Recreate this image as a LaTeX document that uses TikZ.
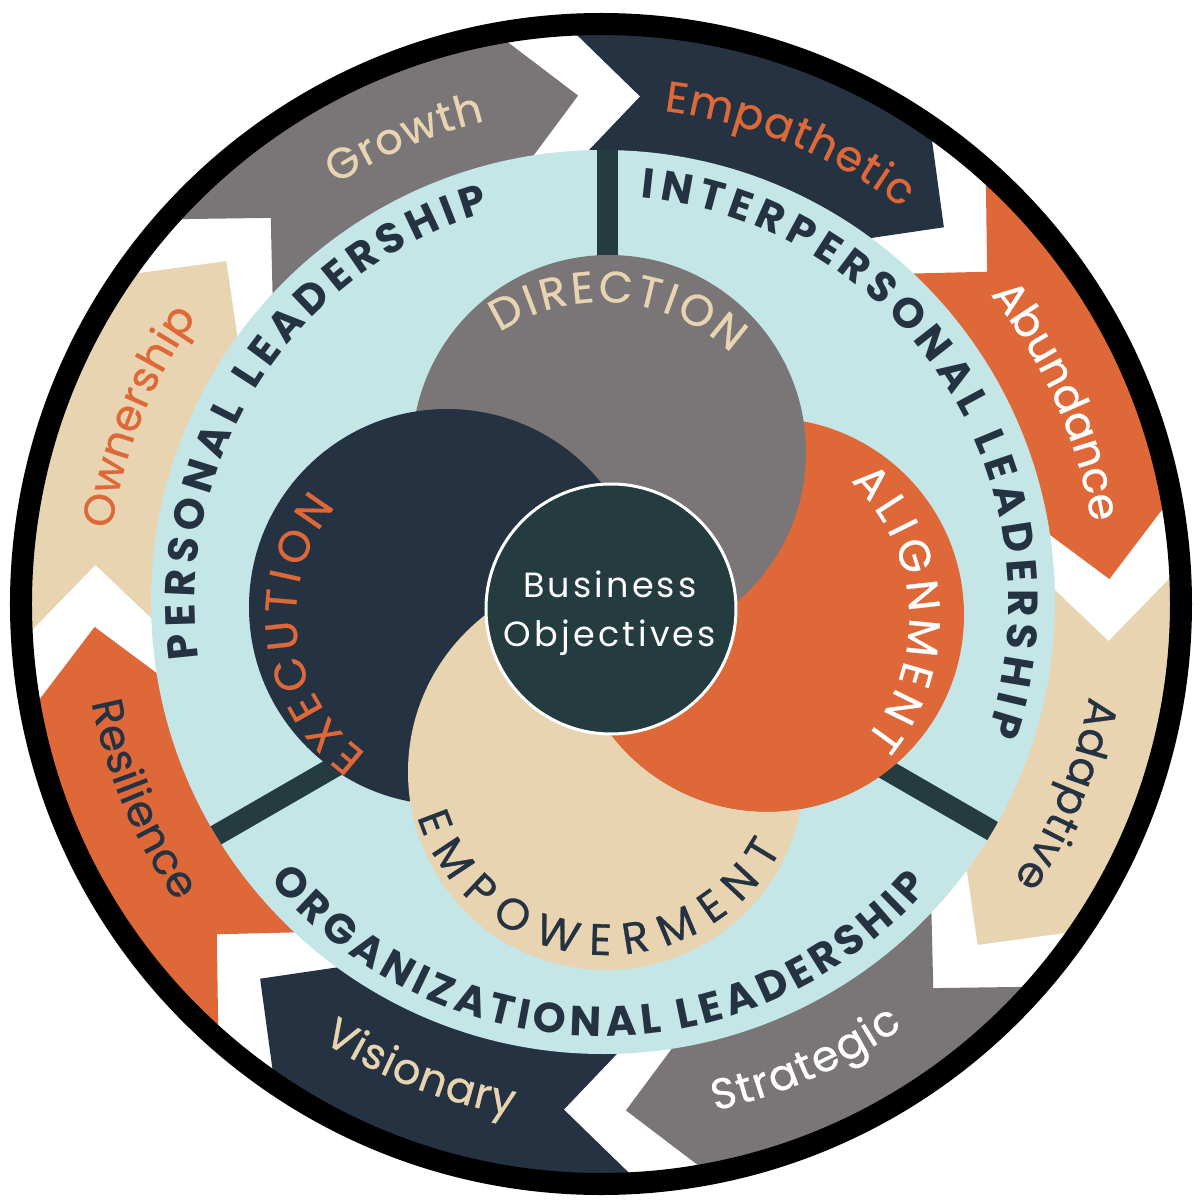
\documentclass[tikz,border=0pt]{standalone}
\usepackage{fontspec}
\setmainfont{Poppins}
\usetikzlibrary{decorations.text}
\IfFontExistsTF{Poppins Bold}{\newfontfamily\boldf{Poppins Bold}}{\newfontfamily\boldf{Poppins}[FakeBold=2]}
\newfontfamily\regf{Poppins}[FakeBold=0.6]
\definecolor{grayc}{HTML}{7A7677}
\definecolor{navyc}{HTML}{243242}
\definecolor{orangec}{HTML}{DF6839}
\definecolor{beigec}{HTML}{E8D4B0}
\definecolor{cyanc}{HTML}{C4E6E7}
\definecolor{tealc}{HTML}{243B40}
% #1 cx, #2 cy, #3 r, #4 start, #5 end, #6 raise, #7 font, #8 color, #9 text
\newcommand\ArcLabel[9]{%
  \path[decorate, decoration={text along path, text={|#7|#9}, text color=#8,
    text align={fit to path}, raise=#6}]
    (#1,#2) ++(#4:#3) arc[start angle=#4, end angle=#5, radius=#3];}
\newcommand\outerfont{\regf\fontsize{43}{43}\selectfont}
\newcommand\innerfont{\regf\fontsize{44}{44}\selectfont}
\newcommand\ringfont{\boldf\fontsize{42}{42}\selectfont}
\begin{document}
\begin{tikzpicture}[x=1pt,y=1pt]
\useasboundingbox (-602,-597) rectangle (598,603);
\fill[white] (-602,-597) rectangle (598,603);
% outer chevron ring
\foreach \b/\c in {135/grayc,90/navyc,45/orangec,0/beigec,-45/grayc,-90/navyc,-135/orangec,180/beigec}{
  \pgfmathsetmacro\tA{\b+3.4}
  \pgfmathsetmacro\hA{\b-34.6}
  \pgfmathsetmacro\tip{\b-42.3}
  \pgfmathsetmacro\nA{\b-4.3}
  \fill[\c] (\tA:578) arc[start angle=\tA, end angle=\hA, radius=578]
    -- (\tip:508) -- (\hA:440) arc[start angle=\hA, end angle=\tA, radius=440]
    -- (\nA:508) -- cycle;
}
% black rim
\draw[black, line width=22] (-1,-1) circle[radius=580];
% cyan disk
\fill[cyanc] (1,1) circle[radius=452];
% separators
\coordinate (hub) at (6,-6);
\begin{scope}
  \clip (1,1) circle[radius=452];
  \foreach \a in {90,210,330} \draw[tealc, line width=21] (hub) -- ++(\a:480);
\end{scope}
% four circles (pinwheel)
\fill[orangec] (165,-12) circle[radius=197];
\fill[grayc] (7,151) circle[radius=197];
\fill[navyc] (-155,-4) circle[radius=198];
\begin{scope}
  \clip (4,-169) circle[radius=198];
  \fill[beigec, even odd rule] (-700,-700) rectangle (700,700) (165,-12) circle[radius=197];
\end{scope}
% centre
\node[circle, fill=tealc, draw=white, line width=3, minimum size=250, inner sep=0] (bo) at (9,-6) {};
\node[anchor=base, text=white, font={\fontsize{35}{35}\selectfont\addfontfeatures{LetterSpace=9}}] (bo1) at (8,6) {Business};
\node[anchor=base, text=white, font={\fontsize{35}{35}\selectfont\addfontfeatures{LetterSpace=9}}] (bo2) at (8,-43) {Objectives};
% inner labels
\ArcLabel{0}{113}{203}{122.7}{47}{-15}{\innerfont}{beigec}{DIRECTION}
\ArcLabel{-136}{-13}{185}{233.7}{140.5}{-15}{\innerfont}{orangec}{EXECUTION}
\ArcLabel{118}{-15}{204}{46}{-39.3}{-15}{\innerfont}{white}{ALIGNMENT}
\ArcLabel{4}{-154}{183}{197.3}{332.5}{-15}{\innerfont}{navyc}{EMPOWERMENT}
% ring labels
\ArcLabel{0}{0}{422}{187.7}{106.1}{-15}{\ringfont}{navyc}{PERSONAL LEADERSHIP}
\ArcLabel{0}{0}{422}{84.5}{-18.7}{-15}{\ringfont}{navyc}{INTERPERSONAL LEADERSHIP}
\ArcLabel{0}{0}{418}{219.7}{319.1}{-15}{\ringfont}{navyc}{ORGANIZATIONAL LEADERSHIP}
% outer labels
\ArcLabel{0}{0}{508}{122.4}{103.7}{-12}{\outerfont}{beigec}{Growth}
\ArcLabel{0}{0}{508}{82.8}{52.8}{-12}{\outerfont}{orangec}{Empathetic}
\ArcLabel{0}{0}{508}{38.4}{9.4}{-12}{\outerfont}{white}{Abundance}
\ArcLabel{0}{0}{508}{-10.9}{-33.9}{-12}{\outerfont}{navyc}{Adaptive}
\ArcLabel{0}{0}{508}{-77.5}{-54.6}{-12}{\outerfont}{white}{Strategic}
\ArcLabel{0}{0}{508}{-122.6}{-99.9}{-12}{\outerfont}{beigec}{Visionary}
\ArcLabel{0}{0}{508}{191}{215}{-12}{\outerfont}{navyc}{Resilience}
\ArcLabel{0}{0}{508}{171.4}{144.8}{-12}{\outerfont}{orangec}{Ownership}
\end{tikzpicture}
\end{document}
